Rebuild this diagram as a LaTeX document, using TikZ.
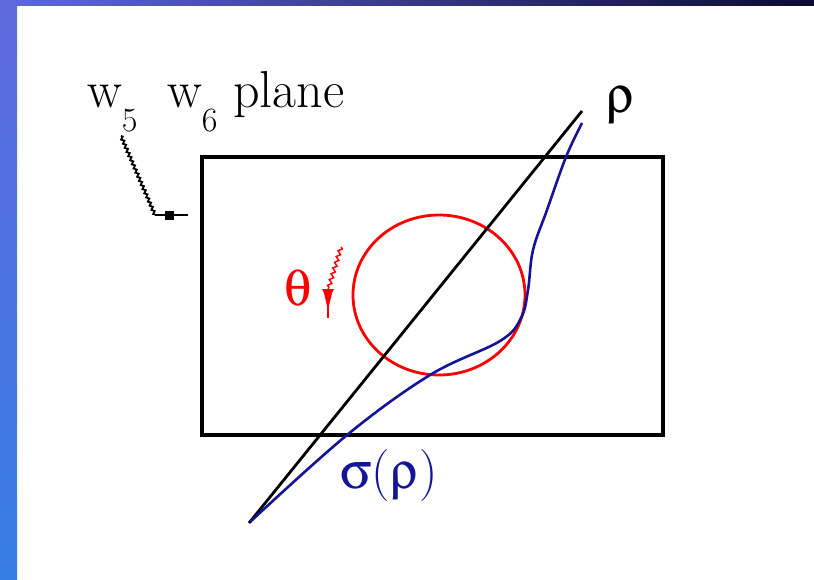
\documentclass[tikz,border=0pt]{standalone}
\usepackage{times}
\usepackage[Symbol]{upgreek}
\usepackage{xcolor}
\usepackage{tikz}
\usetikzlibrary{arrows.meta, decorations.pathmorphing}
\definecolor{bandtop}{RGB}{95,105,220}
\definecolor{bandmid}{RGB}{55,125,230}
\definecolor{bandnavy}{RGB}{12,10,50}
\definecolor{bandpurple}{RGB}{70,35,130}
\definecolor{sigmablue}{RGB}{20,20,150}
\newcommand{\wsub}[1]{w\raisebox{-24pt}{\fontsize{34}{34}\selectfont #1}}

\begin{document}
\begin{tikzpicture}[x=1pt, y=-1pt,
  lbl/.style={font=\fontsize{52}{56}\selectfont, inner sep=0pt,
              anchor=base west},
  zig/.style={decorate, decoration={zigzag, amplitude=1.3pt, segment length=4.5pt}},
  leader/.style={line width=1.8pt},
]
%% Slide background
\useasboundingbox (0,0) rectangle (814,579);
\fill[white] (0,0) rectangle (814,579);
\shade[top color=bandtop, bottom color=bandmid] (0,0) rectangle (17,579);
\shade[left color=bandtop, middle color=bandpurple, right color=bandnavy]
  (0,0) rectangle (814,5);

%% The plane
\node[draw, line width=4pt, minimum width=461pt, minimum height=278pt,
      inner sep=0pt] (plane) at (432.5,296) {};
\node[lbl] (wfive) at (87,107) {\wsub{5}};
\node[lbl] (wsix) at (167,107) {\wsub{6} plane};

%% Leader to the plane
\coordinate (leadtop) at (121,136);
\coordinate (bend) at (155,215);
\coordinate (lead) at (188,215);
\draw[leader, zig] (leadtop) -- (bend);
\draw[leader] (bend) -- (lead)
  node[pos=0.45, fill, inner sep=0pt, minimum size=9pt] {};

%% Circle and rotation theta
\draw[red, line width=2.8pt] (439,295) ellipse [x radius=86, y radius=80];
\node[lbl, red] (theta) at (284,305) {$\uptheta$};
\coordinate (thA) at (341,247);
\coordinate (thB) at (328,290);
\coordinate (thC) at (328,306);
\coordinate (thD) at (328,318);
\draw[red, line width=1.5pt, decorate,
      decoration={zigzag, amplitude=1.8pt, segment length=6pt}] (thA) -- (thB);
\fill[red] (322,289) -- (334,289) -- (332,293) -- (329,306) -- (327,306)
  -- (324,293) -- cycle;
\draw[red, line width=1.5pt] (thC) -- (thD);

%% Line rho
\coordinate (rhoA) at (249,523);
\coordinate (rhoB) at (582,111);
\draw[line width=2.8pt] (rhoA) -- (rhoB);
\node[lbl] (rho) at (606,112) {$\uprho$};

%% Curve sigma(rho)
\draw[sigmablue, line width=2.6pt] plot[smooth, tension=0.6] coordinates {
  (250,522) (347,435) (430,375) (500,341) (521,318) (528,290)
  (533,250) (547,210) (566,157) (582,123)};
\node[lbl, sigmablue] (sigma) at (340,488) {$\upsigma$(\kern1pt$\uprho$)};
\end{tikzpicture}
\end{document}
